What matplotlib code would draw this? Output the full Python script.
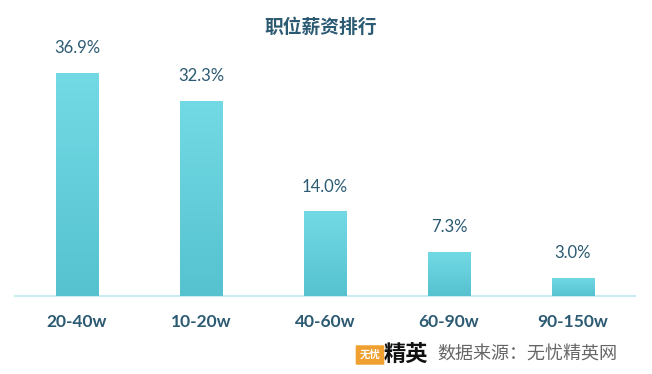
import matplotlib.pyplot as plt
import numpy as np
from matplotlib.patches import FancyBboxPatch

plt.rcParams['font.family'] = ['Lato', 'Noto Sans CJK SC', 'DejaVu Sans']

categories = ['20-40w', '10-20w', '40-60w', '60-90w', '90-150w']
values = [36.9, 32.3, 14.0, 7.3, 3.0]
labels = ['36.9%', '32.3%', '14.0%', '7.3%', '3.0%']

text_color = '#2b5a72'

fig = plt.figure(figsize=(6.52, 3.74), dpi=100)
ax = fig.add_axes([15 / 652, 78 / 374, 620 / 652, 241.6 / 374])

x = np.arange(len(categories))
bars = ax.bar(x, values, width=0.34, color='#62cfdc', zorder=2)

# vertical gradient on each bar
grad = np.linspace(0, 1, 256).reshape(-1, 1)
cmap = plt.matplotlib.colors.LinearSegmentedColormap.from_list('g', ['#56c2d0', '#72dae4'])
for b in bars:
    x0, w, h = b.get_x(), b.get_width(), b.get_height()
    im = ax.imshow(grad, extent=[x0, x0 + w, 0, h], origin='lower', cmap=cmap,
                   aspect='auto', zorder=3)
    im.set_clip_path(b)

for xi, v, lab in zip(x, values, labels):
    ax.text(xi, v + 4.1, lab, ha='center', va='center', fontsize=12,
            color=text_color)

ax.set_xlim(-0.5, 4.5)
ax.set_ylim(0, 40)
ax.set_xticks(x)
ax.set_xticklabels(categories, fontsize=12.5, fontweight='bold', color=text_color)
ax.tick_params(axis='x', length=0, pad=13)
ax.set_yticks([])
for s in ['top', 'right', 'left']:
    ax.spines[s].set_visible(False)
ax.spines['bottom'].set_color('#c8eef4')
ax.spines['bottom'].set_linewidth(1.5)

fig.text(321 / 652, 1 - 27 / 374, '职位薪资排行', ha='center', va='center',
         fontsize=13.5, fontweight='bold', color=text_color,
         family=['Noto Sans CJK SC', 'DejaVu Sans'])

# source watermark
badge = FancyBboxPatch((357 / 652, 1 - 364 / 374), 26 / 652, 18 / 374,
                       boxstyle='round,pad=0.002', transform=fig.transFigure,
                       facecolor='#f0a030', edgecolor='none')
fig.patches.append(badge)
fig.text(370 / 652, 1 - 355 / 374, '无忧', ha='center', va='center', fontsize=7.5,
         color='white', fontweight='bold', family=['Noto Sans CJK SC'])
fig.text(384 / 652, 1 - 354 / 374, '精英', ha='left', va='center', fontsize=16,
         color='#111111', fontweight='bold', family=['Noto Sans CJK SC'])
fig.text(437 / 652, 1 - 355 / 374, '数据来源：无忧精英网', ha='left', va='center',
         fontsize=13, color='#666666', family=['Noto Sans CJK SC'])

fig.savefig('out.png', dpi=100)
